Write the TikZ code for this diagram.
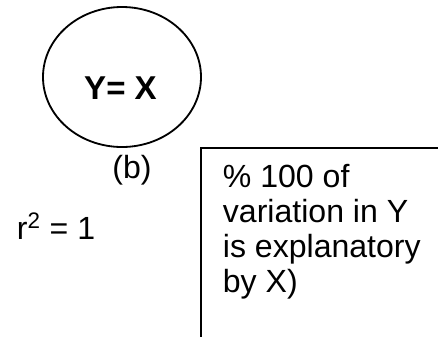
\documentclass[tikz,border=0pt]{standalone}
\usepackage{fontspec}
\setmainfont{Liberation Sans}
\begin{document}
\begin{tikzpicture}[x=0.025cm,y=-0.025cm,line width=1.3pt,
  txt/.style={font=\fontsize{22.8pt}{24.7pt}\selectfont,inner sep=0pt}]
\useasboundingbox (0,0) rectangle (438,337);
\draw (122,77) ellipse [x radius=79, y radius=70];
\node[txt,anchor=base,font=\fontsize{23.5pt}{24.7pt}\selectfont\bfseries] (eq) at (120.5,99) {Y= X};
\node[txt,anchor=base] (b) at (132,178) {(b)};
\node[txt,anchor=base west] (r) at (16,239) {r\textsuperscript{2} = 1};
\draw (438,148) -| (201,337);
% base of a multi-line node = its last line
\node[txt,anchor=base west,align=left] (expl) at (222,292) {\% 100 of\\variation in Y\\is explanatory\\by X)};
\end{tikzpicture}
\end{document}
